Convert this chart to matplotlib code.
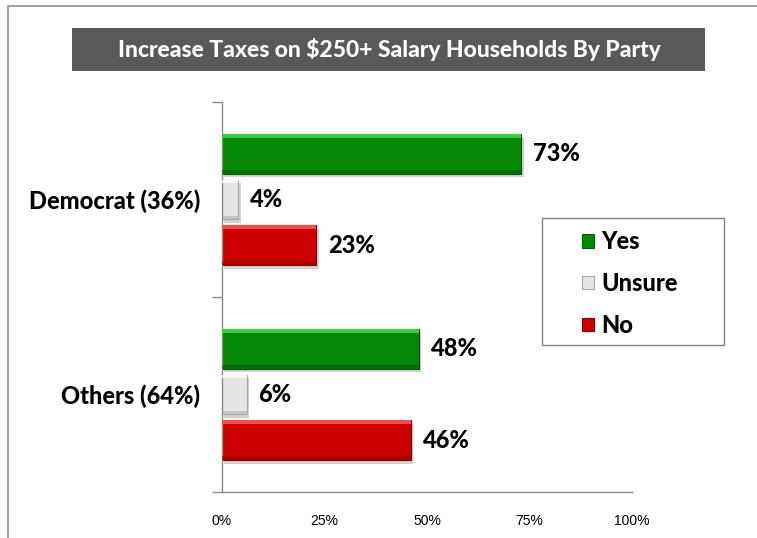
import matplotlib
matplotlib.use("Agg")
import matplotlib.pyplot as plt
from matplotlib.patches import Rectangle, Patch
import numpy as np

# Survey results (% of respondents)
categories = ["Democrat (36%)", "Others (64%)"]
series_names = ["Yes", "Unsure", "No"]
yes_vals = [73, 48]
unsure_vals = [4, 6]
no_vals = [23, 46]
x_ticks = [0, 25, 50, 75, 100]
x_tick_labels = ["0%", "25%", "50%", "75%", "100%"]
title = "Increase Taxes on $250+ Salary Households By Party"

W, H = 757, 538
fig = plt.figure(figsize=(W / 100, H / 100), dpi=100)
fig.patch.set_facecolor("white")

BOLD = ["Lato", "DejaVu Sans"]
WEIGHT = 900

# outer frame (runs off the right and bottom edges)
fig.add_artist(Rectangle((8 / W, -0.05), 1.2, 1 - 6 / H + 0.05, transform=fig.transFigure,
                         facecolor="none", edgecolor="#a6a6a6", linewidth=1.5, clip_on=False))

# title banner
fig.add_artist(Rectangle((72 / W, 1 - 71 / H), (705 - 72) / W, 43 / H, transform=fig.transFigure,
                         facecolor="#595959", edgecolor="none"))
fig.text((72 + 705) / 2 / W + 0.5 / W, 1 - 49.5 / H, title, color="white", fontsize=16.5,
         fontweight=WEIGHT, family=BOLD, ha="center", va="center")

ax = fig.add_axes([222 / W, 46 / H, 410 / W, 390 / H])
ax.set_xlim(0, 100)
ax.set_ylim(2, 0)

centers = np.arange(len(categories)) + 0.5
offset = 0.234
bh = 0.205

styles = {
    "Yes": dict(face="#078807", light="#3fcc3f", dark="#045a04"),
    "Unsure": dict(face="#e4e4e4", light="#f7f7f7", dark="#a8a8a8"),
    "No": dict(face="#cc0000", light="#ff4a4a", dark="#840000"),
}
series = {"Yes": yes_vals, "Unsure": unsure_vals, "No": no_vals}

for i, name in enumerate(series_names):
    vals = series[name]
    st = styles[name]
    ypos = centers + (i - 1) * offset
    # drop shadow
    ax.barh(ypos + 0.018, vals, height=bh, left=0.6, color="#000000", alpha=0.18,
            linewidth=0, zorder=1)
    # main bar
    ax.barh(ypos, vals, height=bh, color=st["face"], edgecolor=st["dark"],
            linewidth=0.8, zorder=2)
    # bevel highlight along the top and shade along the bottom
    ax.barh(ypos - bh / 2 + 0.010, vals, height=0.020, color=st["light"], linewidth=0, zorder=3)
    ax.barh(ypos + bh / 2 - 0.010, vals, height=0.020, color=st["dark"], linewidth=0,
            alpha=0.5, zorder=3)
    for y, v in zip(ypos, vals):
        ax.text(v + 2.9, y, f"{v}%", fontsize=17, fontweight=WEIGHT, family=BOLD,
                va="center", ha="left", color="black", zorder=4)

# axes styling
for s in ["top", "right"]:
    ax.spines[s].set_visible(False)
for s in ["left", "bottom"]:
    ax.spines[s].set_color("#8c8c8c")
    ax.spines[s].set_linewidth(1.0)

ax.set_xticks(x_ticks)
ax.set_xticklabels(x_tick_labels, fontsize=10, family=["Liberation Sans", "DejaVu Sans"])
ax.tick_params(axis="x", length=0, pad=16)

ax.set_yticks(centers)
ax.set_yticklabels(categories, fontsize=17, fontweight=WEIGHT, family=BOLD)
ax.tick_params(axis="y", which="major", length=0, pad=16)
ax.set_yticks([0, 1, 2], minor=True)
ax.tick_params(axis="y", which="minor", length=7, color="#8c8c8c", width=1.0, direction="out")

# legend box
fig.add_artist(Rectangle((542 / W, 1 - 345 / H), (724 - 542) / W, (345 - 218) / H,
                         transform=fig.transFigure, facecolor="white",
                         edgecolor="#808080", linewidth=1.0))
handles = [Patch(facecolor=styles[n]["face"], edgecolor=styles[n]["dark"], linewidth=0.8)
           for n in series_names]
leg = fig.legend(handles, series_names, loc="upper left",
                 bbox_to_anchor=(582 / W, 1 - 230 / H), frameon=False,
                 prop={"family": BOLD, "weight": WEIGHT, "size": 17},
                 handlelength=0.52, handleheight=0.52, handletextpad=0.3,
                 labelspacing=0.8, borderpad=0, borderaxespad=0)

fig.savefig("out.png", dpi=100)
